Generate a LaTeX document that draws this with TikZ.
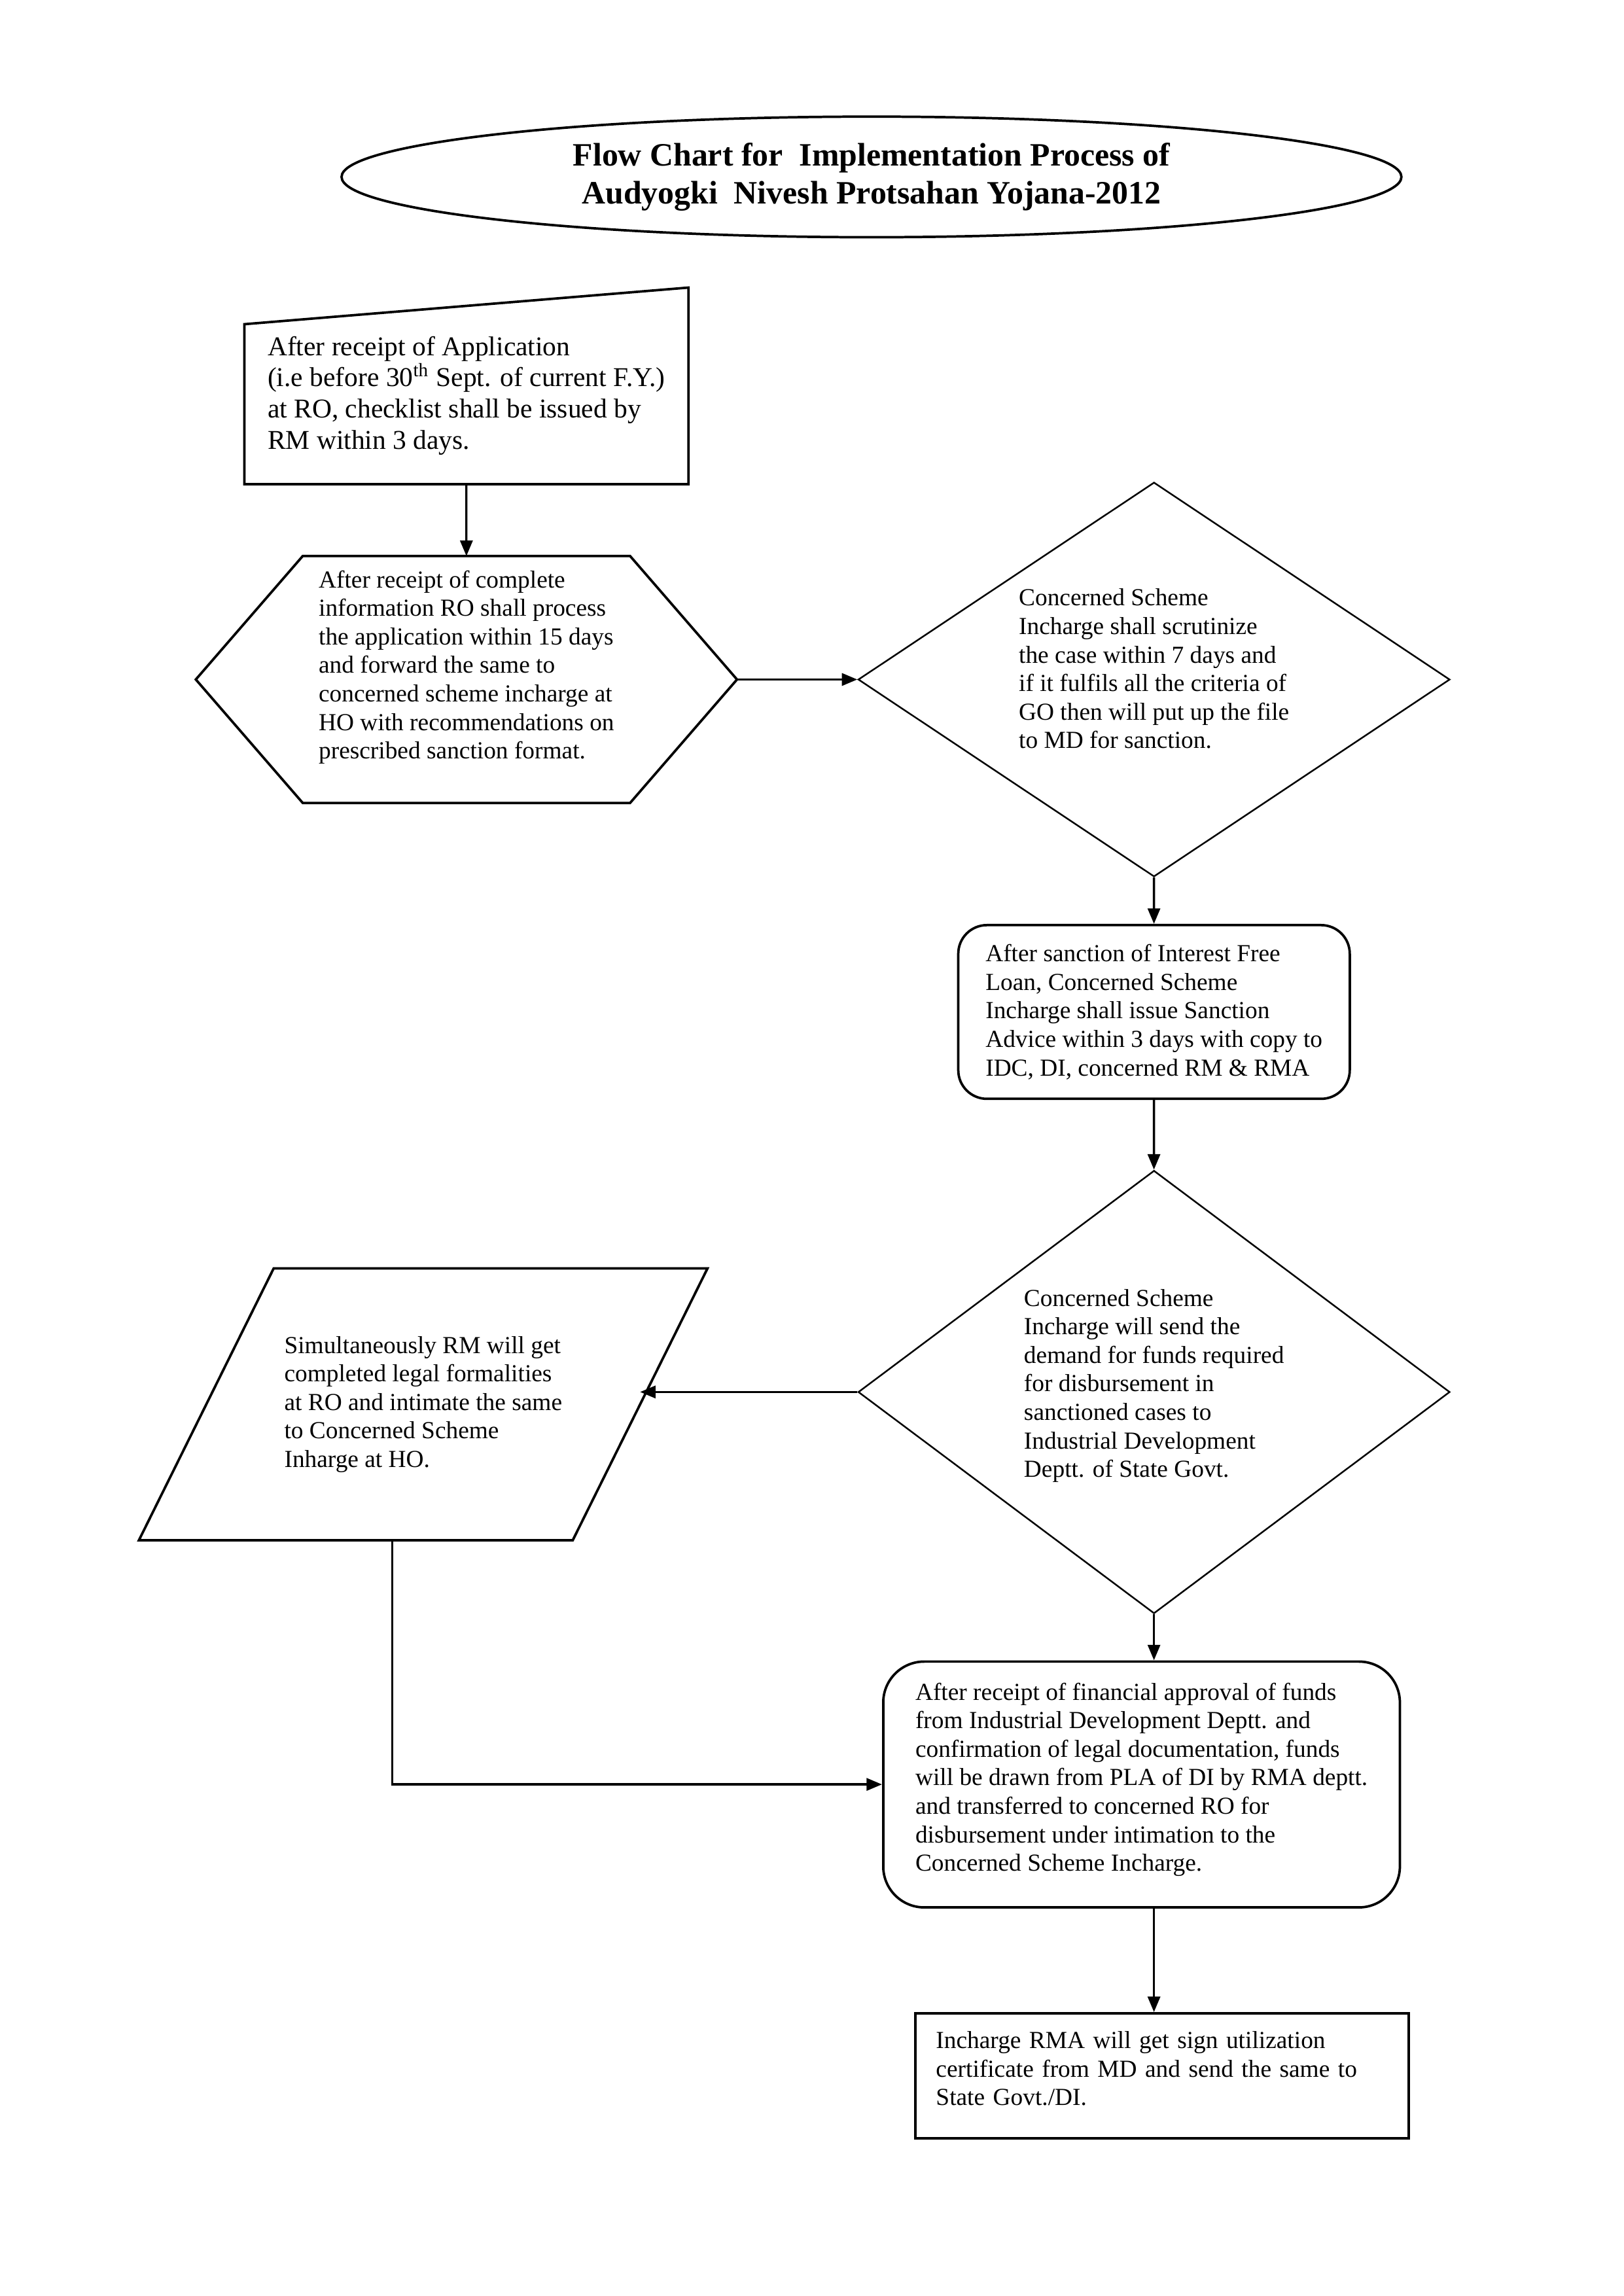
\documentclass[tikz,border=0pt]{standalone}
\usepackage{fontspec}
\setmainfont{Liberation Serif}
\usetikzlibrary{arrows.meta, positioning, shapes.geometric, calc}

\begin{document}
\begin{tikzpicture}[
    txt/.style={font=\fontsize{9}{10.5}\selectfont, align=left, inner sep=0pt},
    box/.style={txt, draw, line width=0.9pt},
    dia/.style={txt, draw, diamond, line width=0.6pt, minimum width=7.654cm},
    outline/.style={line width=0.9pt},
    flow/.style={-{Triangle[length=2mm,width=1.6mm]}, line width=0.8pt}
]
    \useasboundingbox (0,0) rectangle (21,-29.7);

    \begin{scope}[scale=0.995]
    % Title
    \node[draw, ellipse, line width=0.9pt, inner sep=0pt, minimum width=13.71cm, minimum height=1.56cm,
          font=\fontsize{12}{14}\selectfont\bfseries, align=center] (title) at (11.33,-2.30)
        {Flow Chart for~ Implementation Process of\\Audyogki~ Nivesh Protsahan Yojana-2012};

    % Application received at RO
    \node[txt, font=\fontsize{10}{11.5}\selectfont, text depth=8.5pt, minimum width=5.731cm, minimum height=2.056cm] (apply) at (6.064,-5.255)
        {After receipt of Application\\(i.e before 30\textsuperscript{th} Sept. of current F.Y.)\\at RO, checklist shall be issued by\\RM within 3 days.};
    \draw[outline] (apply.south west) -- (apply.south east) -- ($(apply.north east)+(0,0.476)$) -- (apply.north west) -- cycle;

    % RO processing (hexagon)
    \node[txt, text depth=11pt, minimum width=6.987cm, minimum height=3.18cm] (review) at (6.064,-8.834)
        {After receipt of complete\\information RO shall process\\the application within 15 days\\and forward the same to\\concerned scheme incharge at\\HO with recommendations on\\prescribed sanction format.};
    \draw[outline] (review.west) -- ($(review.north west)+(1.39,0)$) -- ($(review.north east)+(-1.39,0)$) -- (review.east)
        -- ($(review.south east)+(-1.39,0)$) -- ($(review.south west)+(1.39,0)$) -- cycle;

    % Scrutiny at HO
    \node[dia, aspect=1.5, text depth=8pt, minimum height=5.102cm] (scrutiny) at (15.003,-8.834)
        {Concerned Scheme\\Incharge shall scrutinize\\the case within 7 days and\\if it fulfils all the criteria of\\GO then will put up the file\\to MD for sanction.};

    % Sanction advice
    \node[box, rounded corners=0.37cm, minimum width=5.064cm, minimum height=2.247cm] (sanction) at (15.003,-13.156)
        {After sanction of Interest Free\\Loan, Concerned Scheme\\Incharge shall issue Sanction\\Advice within 3 days with copy to\\IDC, DI, concerned RM \& RMA};

    % Demand for funds
    \node[dia, aspect=1.336, text depth=6.5pt, minimum height=5.731cm] (demand) at (15.003,-18.097)
        {Concerned Scheme\\Incharge will send the\\demand for funds required\\for disbursement in\\sanctioned cases to\\Industrial Development\\Deptt. of State Govt.};

    % Legal formalities (parallelogram)
    \node[txt, minimum width=5.598cm, minimum height=3.503cm] (legal) at (5.502,-18.258)
        {Simultaneously RM will get\\completed legal formalities\\at RO and intimate the same\\to Concerned Scheme\\Inharge at HO.};
    \draw[outline] ($(legal.north west)+(0.876,0)$) -- ($(legal.north east)+(0.876,0)$)
        -- ($(legal.south east)+(-0.876,0)$) -- ($(legal.south west)+(-0.876,0)$) -- cycle;

    % Release of funds
    \node[box, rounded corners=0.53cm, text depth=5.5pt, minimum width=6.683cm, minimum height=3.18cm] (funds) at (14.841,-23.199)
        {After receipt of financial approval of funds\\from Industrial Development Deptt. and\\confirmation of legal documentation, funds\\will be drawn from PLA of DI by RMA deptt.\\and transferred to concerned RO for\\disbursement under intimation to the\\Concerned Scheme Incharge.};

    % Utilization certificate
    \node[box, text width=5.85cm, text depth=26.5pt, minimum width=6.378cm, minimum height=1.618cm] (util) at (15.108,-26.988)
        {Incharge RMA will get sign utilization\\certificate from MD and send the same to\\State Govt./DI.};

    % Connectors
    \draw[flow] (apply) -- (review);
    \draw[flow] (review.east) -- (scrutiny.west);
    \draw[flow] (scrutiny) -- (sanction);
    \draw[flow] (sanction) -- (demand);
    \draw[flow] (demand.west) -- (demand.west -| legal.east);
    \draw[flow] (demand.south) -- (demand.south |- funds.north);
    \draw[flow] ([xshift=-4mm]legal.south) |- (funds.west);
    \draw[flow] (demand.south |- funds.south) -- (demand.south |- util.north);
    \end{scope}
\end{tikzpicture}
\end{document}
